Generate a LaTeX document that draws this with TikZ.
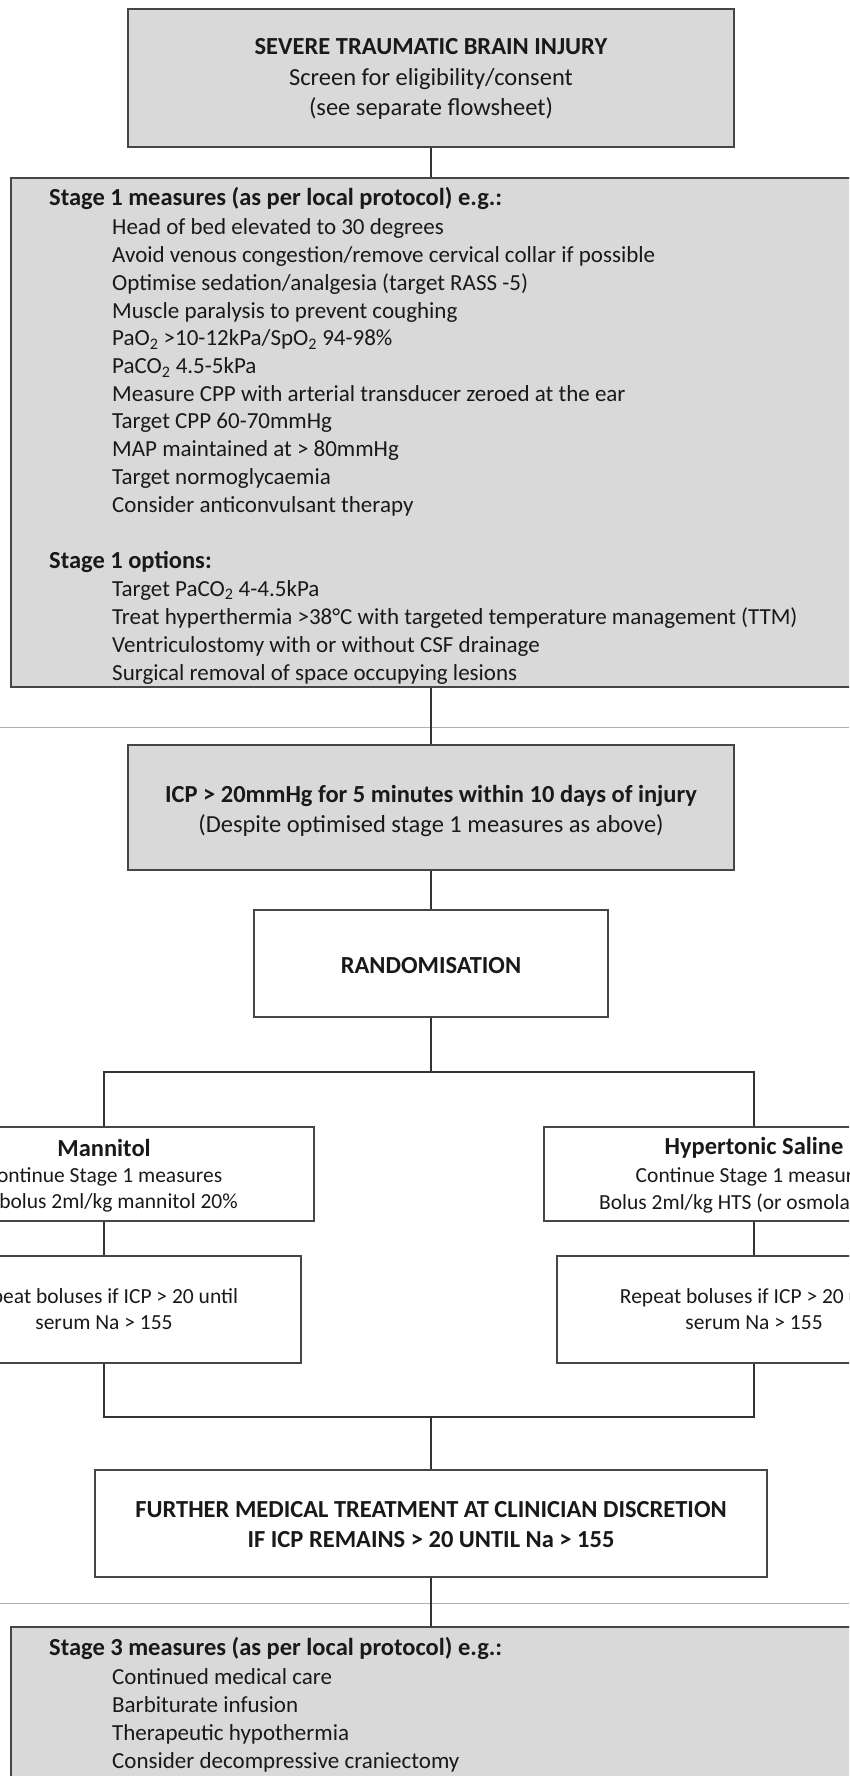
\documentclass[tikz,border=0pt]{standalone}
\usepackage{fontspec}
\setmainfont{Carlito}
\definecolor{boxgray}{RGB}{217,217,217}
\definecolor{edge}{RGB}{70,70,70}
\definecolor{sepgray}{RGB}{175,175,175}
\definecolor{ink}{RGB}{25,25,25}
\begin{document}
\begin{tikzpicture}[x=1pt,y=-1pt,
  box/.style={draw=edge, line width=1.6pt, inner sep=0pt},
  graybox/.style={box, fill=boxgray},
  whitebox/.style={box, fill=white},
  conn/.style={draw=black!80, line width=1.3pt},
  sep/.style={draw=sepgray, line width=1pt},
  bigtxt/.style={font=\fontsize{24.5}{30.5}\selectfont, text=ink, align=center, inner sep=0pt},
  head/.style={font=\fontsize{24.5}{29}\selectfont\bfseries, text=ink, inner sep=0pt, anchor=base west},
  item/.style={font=\fontsize{23}{28}\selectfont, text=ink, inner sep=0pt, anchor=base west},
  side/.style={font=\fontsize{21.5}{27}\selectfont, text=ink, inner sep=0pt},
  sidehead/.style={font=\fontsize{24.5}{29}\selectfont\bfseries, text=ink, inner sep=0pt}
]
\useasboundingbox (0,0) rectangle (849,1776);
\clip (0,0) rectangle (849,1776);
\fill[white] (0,0) rectangle (849,1776);

% separators
\draw[sep] (0,727) -- (849,727);
\draw[sep] (0,1603) -- (849,1603);

% boxes
\node[graybox, minimum width=606pt, minimum height=138pt] (top) at (431,78) {};
\node[graybox, minimum width=840pt, minimum height=509pt] (s1) at (431,432.5) {};
\node[graybox, minimum width=606pt, minimum height=125pt] (icp) at (431,807.5) {};
\node[whitebox, minimum width=354pt, minimum height=107pt] (rand) at (431,963.5) {};
\node[whitebox, minimum width=420pt, minimum height=94pt] (man) at (104,1174) {};
\node[whitebox, minimum width=420pt, minimum height=94pt] (hs) at (754,1174) {};
\node[whitebox, minimum width=394pt, minimum height=107pt] (manrep) at (104,1309.5) {};
\node[whitebox, minimum width=394pt, minimum height=107pt] (hsrep) at (754,1309.5) {};
\node[whitebox, minimum width=672pt, minimum height=107pt] (further) at (431,1523.5) {};
\node[graybox, minimum width=840pt, minimum height=173pt] (s3) at (431,1713.5) {};

% connectors
\coordinate (b1L) at (104,1072);
\coordinate (b1R) at (754,1072);
\coordinate (b2L) at (104,1417);
\coordinate (b2R) at (754,1417);
\draw[conn] (top.south) -- (s1.north);
\draw[conn] (s1.south) -- (icp.north);
\draw[conn] (icp.south) -- (rand.north);
\draw[conn] (rand.south) -- (rand.south |- b1L);
\draw[conn] (man.north) -- (b1L) -- (b1R) -- (hs.north);
\draw[conn] (man.south) -- (manrep.north);
\draw[conn] (hs.south) -- (hsrep.north);
\draw[conn] (manrep.south) -- (b2L) -- (b2R) -- (hsrep.south);
\draw[conn] (further.north |- b2L) -- (further.north);
\draw[conn] (further.south) -- (s3.north);

% top text
\node[bigtxt] (toptxt) at (431,79) {\textbf{SEVERE TRAUMATIC BRAIN INJURY}\\Screen for eligibility/consent\\(see separate flowsheet)};

% stage 1
\node[head] (s1h) at (49,206) {Stage 1 measures (as per local protocol) e.g.:};
\foreach \t [count=\i from 0] in {
  Head of bed elevated to 30 degrees,
  Avoid venous congestion/remove cervical collar if possible,
  Optimise sedation/analgesia (target RASS -5),
  Muscle paralysis to prevent coughing,
  PaO\textsubscript{2} >10-12kPa/SpO\textsubscript{2} 94-98\%,
  PaCO\textsubscript{2} 4.5-5kPa,
  Measure CPP with arterial transducer zeroed at the ear,
  Target CPP 60-70mmHg,
  MAP maintained at > 80mmHg,
  Target normoglycaemia,
  Consider anticonvulsant therapy}
  \node[item] (s1i\i) at (112,{235+27.7*\i}) {\t};
\node[head] (s1oh) at (49,568) {Stage 1 options:};
\foreach \t [count=\i from 0] in {
  Target PaCO\textsubscript{2} 4-4.5kPa,
  Treat hyperthermia >38°C with targeted temperature management (TTM),
  Ventriculostomy with or without CSF drainage,
  Surgical removal of space occupying lesions}
  \node[item] (s1o\i) at (112,{596+28*\i}) {\t};

% ICP
\node[bigtxt] (icptxt) at (431,811) {\textbf{ICP > 20mmHg for 5 minutes within 10 days of injury}\\(Despite optimised stage 1 measures as above)};

% randomisation
\node[bigtxt, font=\fontsize{24.5}{30.5}\selectfont\bfseries] (randtxt) at (431,966) {RANDOMISATION};

% mannitol
\node[sidehead] (manh) at (104,1148) {Mannitol};
\node[side] (man1) at (104,1177) {Continue Stage 1 measures};
\node[side, anchor=east] (man2) at (238,1203) {bolus 2ml/kg mannitol 20\%};
\node[side] (mr1) at (104,1298) {Repeat boluses if ICP > 20 until};
\node[side] (mr2) at (104,1323) {serum Na > 155};

% hypertonic saline
\node[sidehead] (hsh) at (754,1148) {Hypertonic Saline};
\node[side] (hs1) at (754,1177) {Continue Stage 1 measures};
\node[side, anchor=west] (hs2) at (599,1203) {Bolus 2ml/kg HTS (or osmolar equivalent)};
\node[side] (hr1) at (754,1298) {Repeat boluses if ICP > 20 until};
\node[side] (hr2) at (754,1323) {serum Na > 155};

% further
\node[bigtxt, font=\fontsize{24.5}{30}\selectfont\bfseries] (furthertxt) at (431,1525) {FURTHER MEDICAL TREATMENT AT CLINICIAN DISCRETION\\IF ICP REMAINS > 20 UNTIL Na > 155};

% stage 3
\node[head] (s3h) at (49,1655) {Stage 3 measures (as per local protocol) e.g.:};
\foreach \t [count=\i from 0] in {
  Continued medical care,
  Barbiturate infusion,
  Therapeutic hypothermia,
  Consider decompressive craniectomy}
  \node[item] (s3i\i) at (112,{1684+28.3*\i}) {\t};
\end{tikzpicture}
\end{document}
